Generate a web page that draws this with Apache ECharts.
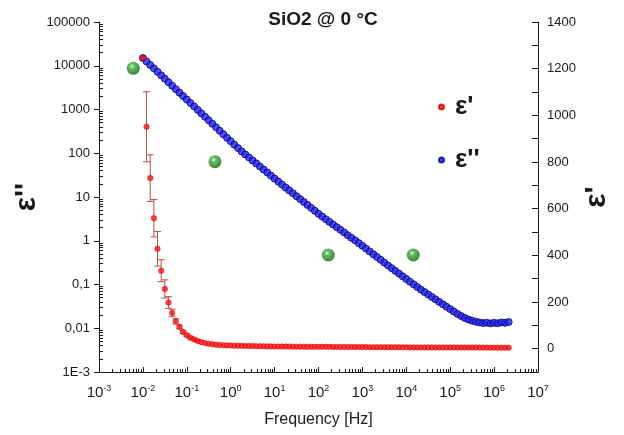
<!DOCTYPE html>
<html>
<head>
<meta charset="utf-8">
<script src="https://cdn.jsdelivr.net/npm/echarts@6/dist/echarts.min.js"></script>
<style>
  html, body { margin: 0; padding: 0; background: #fff; }
  #main { width: 624px; height: 435px; }
</style>
</head>
<body>
<div id="main"></div>
<script>
// frequency points (Hz)
var freq = [
  0.01, 0.0121, 0.0147, 0.0178, 0.0215, 0.0261, 0.0316, 0.0383, 0.0464, 0.0562, 0.0681, 0.0825,
  0.1, 0.121, 0.147, 0.178, 0.215, 0.261, 0.316, 0.383, 0.464, 0.562, 0.681, 0.825,
  1, 1.21, 1.47, 1.78, 2.15, 2.61, 3.16, 3.83, 4.64, 5.62, 6.81, 8.25,
  10, 12.1, 14.7, 17.8, 21.5, 26.1, 31.6, 38.3, 46.4, 56.2, 68.1, 82.5,
  100, 121, 147, 178, 215, 261, 316, 383, 464, 562, 681, 825,
  1000, 1210, 1470, 1780, 2150, 2610, 3160, 3830, 4640, 5620, 6810, 8250,
  10000, 12100, 14700, 17800, 21500, 26100, 31600, 38300, 46400, 56200, 68100, 82500,
  100000, 121000, 147000, 178000, 215000, 261000, 316000, 383000, 464000, 562000, 681000, 825000,
  1000000, 1210000, 1470000, 1780000, 2150000
];
// ε'' (left, log axis)
var epsLoss = [
  15000, 12500, 10400, 8710, 7260, 6040, 5040, 4200, 3500, 2920, 2430, 2030,
  1690, 1410, 1175, 977, 815, 679, 565, 471, 392, 327, 272, 226,
  189, 157, 131, 110, 94.2, 80.2, 68.5, 58.5, 49.8, 42.6, 36.3, 30.9,
  26.4, 22.5, 19.3, 16.5, 14.2, 12.2, 10.4, 8.95, 7.67, 6.58, 5.65, 4.84,
  4.15, 3.57, 3.10, 2.70, 2.35, 2.04, 1.78, 1.55, 1.34, 1.17, 1.02, 0.883,
  0.766, 0.661, 0.569, 0.491, 0.425, 0.366, 0.316, 0.272, 0.236, 0.205, 0.178, 0.154,
  0.134, 0.116, 0.101, 0.0877, 0.0764, 0.0671, 0.0590, 0.0520, 0.0457, 0.0402, 0.0353, 0.0311,
  0.0274, 0.0241, 0.0213, 0.0190, 0.0172, 0.0158, 0.0149, 0.0141, 0.0136, 0.0131, 0.0134, 0.0129,
  0.0133, 0.0130, 0.0136, 0.0133, 0.0139
];
// ε' (right, linear axis)
var epsReal = [
  1245, 951, 731, 559, 428, 334, 256, 198, 153, 117, 93, 71,
  58, 47, 39, 33, 28, 24, 21, 19, 17, 16, 15, 14,
  13.5, 13, 12.5, 12, 11.6, 11.2, 10.9, 10.6, 10.3, 10, 9.8, 9.6,
  9.4, 9.2, 9.0, 8.9, 8.8, 8.7, 8.6, 8.5, 8.4, 8.3, 8.2, 8.1,
  8.0, 7.9, 7.8, 7.7, 7.6, 7.5, 7.4, 7.3, 7.2, 7.1, 7.0, 6.9,
  6.8, 6.7, 6.6, 6.5, 6.4, 6.3, 6.2, 6.1, 6.0, 5.9, 5.8, 5.7,
  5.6, 5.5, 5.5, 5.4, 5.4, 5.3, 5.3, 5.2, 5.2, 5.1, 5.1, 5.0,
  5.0, 4.9, 4.9, 4.8, 4.8, 4.7, 4.7, 4.6, 4.6, 4.5, 4.5, 4.4,
  4.4, 4.3, 4.3, 4.2, 4.2
];
// half width of the ε' error bars (first points only)
var epsRealErr = [0, 150, 100, 80, 74, 47, 39, 25, 16, 11, 8, 6, 5, 4, 3, 3];

// green reference points
var greenFreq = [0.00604, 0.438, 167, 14400];
var greenVal = [8750, 64, 0.472, 0.472];

// axis ticks
var xTicks = [0.001, 0.01, 0.1, 1, 10, 100, 1000, 10000, 100000, 1000000, 10000000];
var xExps = ['-3', '-2', '-1', '0', '1', '2', '3', '4', '5', '6', '7'];
var yTicks = [0.001, 0.01, 0.1, 1, 10, 100, 1000, 10000, 100000];
var yLabels = ['1E-3', '0,01', '0,1', '1', '10', '100', '1000', '10000', '100000'];

// tick marks are placed on plain overlay axes that run in decades
function decadesOf(ticks) {
  return ticks.map(function (t) { return Math.round(Math.log10(t)); });
}
function minorOf(ticks) {
  var out = [];
  for (var i = 0; i < ticks.length - 1; i++) {
    var k = Math.round(Math.log10(ticks[i]));
    for (var m = 2; m <= 9; m++) out.push(k + Math.log10(m));
  }
  return out;
}
function tickIndex(ticks, v) {
  for (var i = 0; i < ticks.length; i++) {
    if (Math.abs(Math.log10(ticks[i]) - Math.log10(v)) < 1e-6) return i;
  }
  return -1;
}

var FONT = 'Liberation Sans';
var INK = '#1a1a1a';

var chart = echarts.init(document.getElementById('main'));

var realPts = freq.map(function (f, i) { return [f, epsReal[i]]; });
var lossPts = freq.map(function (f, i) { return [f, epsLoss[i]]; });
var errPts = epsRealErr.map(function (e, i) { return [freq[i], epsReal[i] - e, epsReal[i] + e]; });
var greenPts = greenFreq.map(function (f, i) { return [f, greenVal[i]]; });

function renderErr(params, api) {
  var x = api.value(0);
  var p1 = api.coord([x, api.value(1)]);
  var p2 = api.coord([x, api.value(2)]);
  var w = 3.5;
  var st = { stroke: '#b8504c', lineWidth: 1 };
  return {
    type: 'group',
    children: [
      { type: 'line', shape: { x1: p1[0], y1: p1[1], x2: p2[0], y2: p2[1] }, style: st },
      { type: 'line', shape: { x1: p1[0] - w, y1: p1[1], x2: p1[0] + w, y2: p1[1] }, style: st },
      { type: 'line', shape: { x1: p2[0] - w, y1: p2[1], x2: p2[0] + w, y2: p2[1] }, style: st }
    ]
  };
}

function tickAxis(pos, lo, hi, values, len, inside) {
  return {
    type: 'value', position: pos, min: lo, max: hi, offset: 0,
    axisLine: { show: true, onZero: false, lineStyle: { color: INK, opacity: 0 } },
    axisTick: { show: true, inside: inside, length: len, customValues: values, lineStyle: { color: INK, opacity: 1 } },
    axisLabel: { show: false },
    splitLine: { show: false }
  };
}

var option = {
  backgroundColor: '#fff',
  animation: false,
  textStyle: { fontFamily: FONT },
  title: {
    text: 'SiO2 @ 0 °C',
    left: 318,
    textAlign: 'center',
    top: 5,
    textStyle: { fontFamily: FONT, fontSize: 19, fontWeight: 'bold', color: INK }
  },
  legend: {
    data: ["ε'", "ε''"],
    orient: 'vertical',
    left: 433,
    top: 89,
    itemGap: 27,
    itemWidth: 5,
    itemHeight: 5,
    icon: 'circle',
    textStyle: { fontFamily: FONT, fontSize: 26, fontWeight: 'bold', color: INK, padding: [0, 0, 0, 6] }
  },
  grid: { left: 99, right: 86, top: 22, bottom: 63 },
  xAxis: [
    {
      type: 'log', logBase: 10, min: 0.001, max: 10000000, position: 'bottom',
      name: 'Frequency [Hz]', nameLocation: 'middle', nameGap: 40,
      nameTextStyle: { fontFamily: FONT, fontSize: 16, color: INK },
      axisLine: { show: true, onZero: false, lineStyle: { color: INK, width: 1 } },
      axisTick: { show: false },
      axisLabel: {
        customValues: xTicks, margin: 12, color: INK,
        formatter: function (v) { return '{b|10}{s|' + xExps[tickIndex(xTicks, v)] + '}'; },
        rich: {
          b: { fontFamily: FONT, fontSize: 15, lineHeight: 18, color: INK },
          s: { fontFamily: FONT, fontSize: 9, lineHeight: 9, verticalAlign: 'top', color: INK }
        }
      },
      splitLine: { show: false }
    },
    tickAxis('bottom', -3, 7, decadesOf(xTicks), 5, true),
    tickAxis('bottom', -3, 7, minorOf(xTicks), 3, true)
  ],
  yAxis: [
    {
      type: 'log', logBase: 10, min: 0.001, max: 100000, position: 'left',
      name: "ε''", nameLocation: 'middle', nameGap: 57, nameRotate: 90, nameMoveOverlap: false,
      nameTextStyle: { fontFamily: FONT, fontSize: 30, fontWeight: 'bold', color: INK },
      axisLine: { show: true, onZero: false, lineStyle: { color: INK, width: 1 } },
      axisTick: { show: false },
      axisLabel: {
        customValues: yTicks, margin: 9, fontFamily: FONT, fontSize: 13, color: INK,
        formatter: function (v) { return yLabels[tickIndex(yTicks, v)]; }
      },
      splitLine: { show: false }
    },
    tickAxis('left', -3, 5, decadesOf(yTicks), 5, false),
    tickAxis('left', -3, 5, minorOf(yTicks), 4, true),
    {
      type: 'value', min: -100, max: 1400, interval: 100, position: 'right',
      name: "ε'", nameLocation: 'middle', nameGap: 44, nameRotate: 90, nameMoveOverlap: false,
      nameTextStyle: { fontFamily: FONT, fontSize: 30, fontWeight: 'bold', color: INK },
      axisLine: { show: true, onZero: false, lineStyle: { color: INK, width: 1 } },
      axisTick: { show: true, inside: true, length: 6, lineStyle: { color: INK } },
      axisLabel: {
        margin: 9, fontFamily: FONT, fontSize: 13, color: INK,
        formatter: function (v) { return (v >= 0 && v % 200 === 0) ? String(v) : ''; }
      },
      splitLine: { show: false }
    }
  ],
  series: [
    {
      name: "ε''", type: 'scatter', xAxisIndex: 0, yAxisIndex: 0,
      symbol: 'circle', symbolSize: 7,
      itemStyle: { color: '#2424f5', borderColor: '#000070', borderWidth: 1 },
      data: lossPts, z: 2
    },
    {
      name: 'errReal', type: 'custom', xAxisIndex: 0, yAxisIndex: 3,
      renderItem: renderErr, encode: { x: 0, y: [1, 2] },
      data: errPts, z: 3, silent: true
    },
    {
      name: "ε'", type: 'scatter', xAxisIndex: 0, yAxisIndex: 3,
      symbol: 'circle', symbolSize: 5.5,
      itemStyle: { color: '#ff1414', borderColor: '#d00000', borderWidth: 0.6 },
      data: realPts, z: 4
    },
    {
      name: 'ref', type: 'scatter', xAxisIndex: 0, yAxisIndex: 0,
      symbol: 'circle', symbolSize: 13,
      itemStyle: {
        color: {
          type: 'radial', x: 0.4, y: 0.35, r: 0.7,
          colorStops: [
            { offset: 0, color: '#c8f5c0' },
            { offset: 0.3, color: '#3aa83a' },
            { offset: 1, color: '#0a5a0a' }
          ]
        }
      },
      data: greenPts, z: 5
    }
  ]
};

chart.setOption(option);
</script>
</body>
</html>
